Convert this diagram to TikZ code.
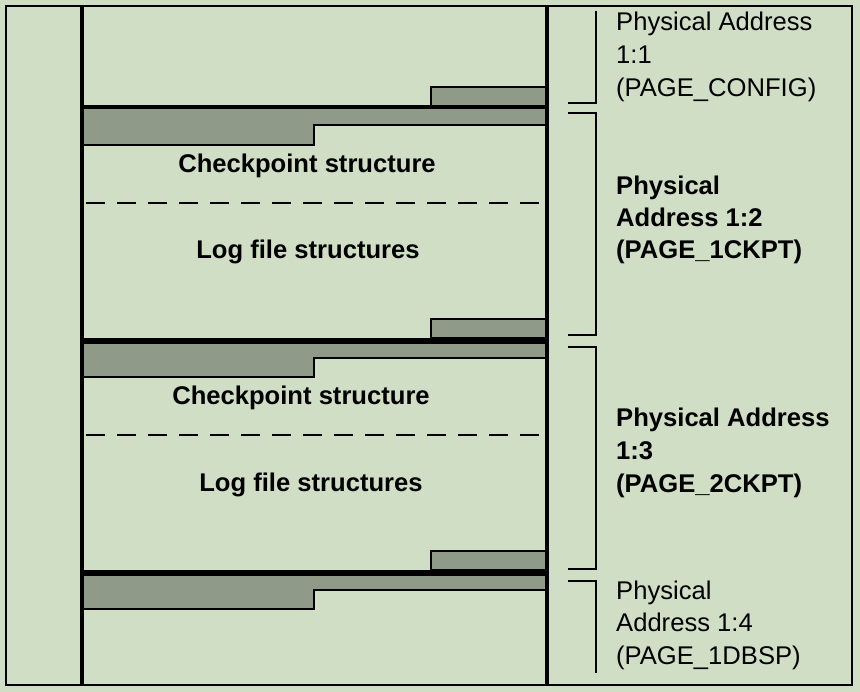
\documentclass[tikz,border=0pt]{standalone}
\usepackage{fontspec}
\setmainfont{Liberation Sans}
\definecolor{bg}{HTML}{CFDEC4}
\definecolor{blk}{HTML}{8F9A89}
\begin{document}
\begin{tikzpicture}[x=1pt,y=-1pt,
  frame/.style={line width=2pt},
  mainv/.style={line width=4pt},
  sep/.style={line width=3.5pt},
  grayblk/.style={fill=blk,draw=black,line width=2.5pt},
  brk/.style={line width=2pt},
  dsh/.style={line width=2pt,dash pattern=on 19pt off 12pt,dash phase=-4pt},
  lbl/.style={inner sep=0pt,anchor=base west,font=\fontsize{25.6}{30}\selectfont},
  blbl/.style={inner sep=0pt,anchor=base west,font=\fontsize{25.6}{30}\selectfont\bfseries},
  ctxt/.style={inner sep=0pt,anchor=base,font=\fontsize{25.6}{30}\selectfont\bfseries}]
\fill[bg] (0,0) rectangle (860,692);
\useasboundingbox (0,0) rectangle (860,692);
\draw[frame] (6,6) rectangle (852,685);
% gray blocks
\foreach \t/\b in {87/106,319/338,551/570}{
  \draw[grayblk] (431,\t) rectangle (547,\b);
}
\foreach \t/\r/\l in {108/125/145,343/358/377,575/590/609}{
  \draw[grayblk] (82,\t) -- (547,\t) -- (547,\r) -- (314,\r) -- (314,\l) -- (82,\l) -- cycle;
}
% separators
\foreach \y in {107,340,572}{
  \draw[sep] (82,\y) -- (547,\y);
}
% dashed
\draw[dsh] (82,203) -- (547,203);
\draw[dsh] (82,435) -- (547,435);
% main verticals
\draw[mainv] (82,6) -- (82,685);
\draw[mainv] (547,6) -- (547,685);
% brackets
\draw[brk] (596,11) -- (596,103) -- (568,103);
\draw[brk] (568,113) -- (596,113) -- (596,335) -- (568,335);
\draw[brk] (568,347) -- (596,347) -- (596,569) -- (568,569);
\draw[brk] (568,581) -- (596,581) -- (596,673);
% center texts
\node[ctxt] (c1) at (307,173) {Checkpoint structure};
\node[ctxt] (l1) at (308,259) {Log file structures};
\node[ctxt] (c2) at (301,405) {Checkpoint structure};
\node[ctxt] (l2) at (311,492) {Log file structures};
% right texts
\node[lbl] (a1) at (616,31) {Physical Address};
\node[lbl] (a2) at (616,64) {1:1};
\node[lbl] (a3) at (616,97) {(PAGE\_CONFIG)};
\node[blbl] (b1) at (616,195) {Physical};
\node[blbl] (b2) at (616,227) {Address 1:2};
\node[blbl] (b3) at (616,259) {(PAGE\_1CKPT)};
\node[blbl] (d1) at (616,427) {Physical Address};
\node[blbl] (d2) at (616,460) {1:3};
\node[blbl] (d3) at (616,493) {(PAGE\_2CKPT)};
\node[lbl] (e1) at (616,599) {Physical};
\node[lbl] (e2) at (616,631) {Address 1:4};
\node[lbl] (e3) at (616,664) {(PAGE\_1DBSP)};
\end{tikzpicture}
\end{document}
